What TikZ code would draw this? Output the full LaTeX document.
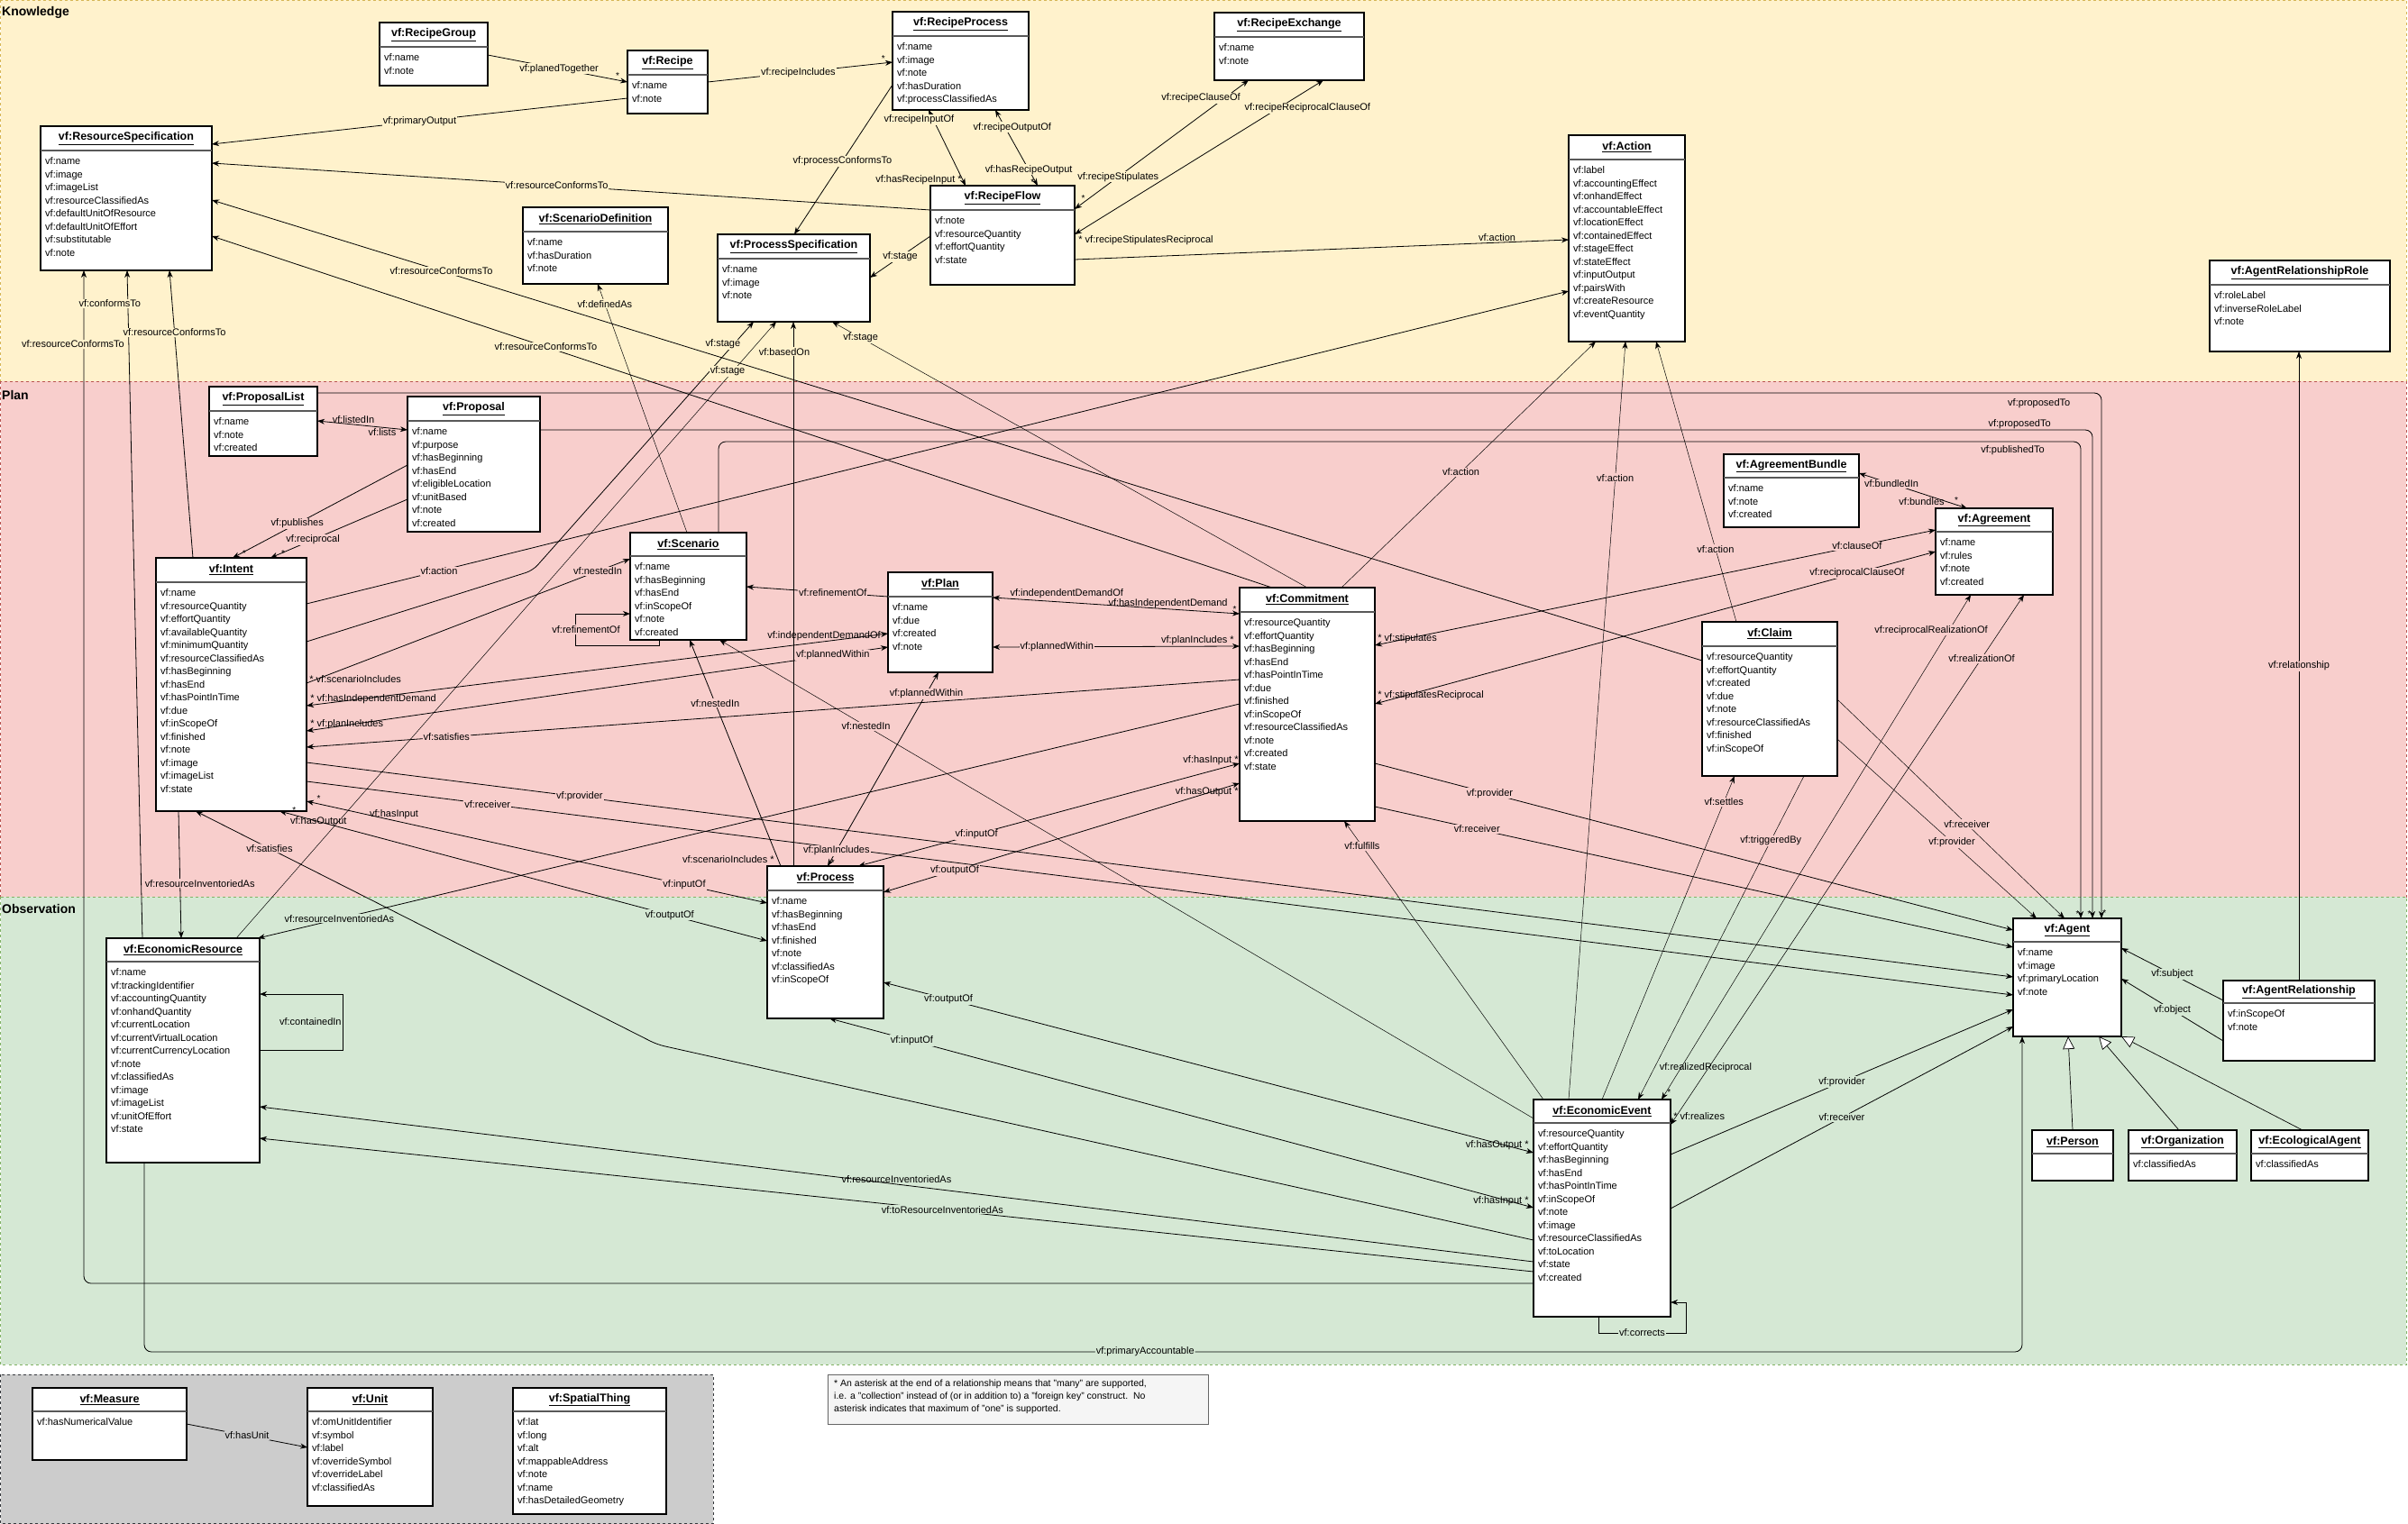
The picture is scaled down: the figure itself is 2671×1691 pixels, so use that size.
\documentclass[tikz,border=0pt]{standalone}
\usepackage{fontspec}
\setmainfont{Liberation Sans}
\usetikzlibrary{arrows.meta, positioning, calc}

\definecolor{knowbg}{HTML}{FFF2CC}
\definecolor{knowline}{HTML}{D6B656}
\definecolor{planbg}{HTML}{F8CECC}
\definecolor{planline}{HTML}{B85450}
\definecolor{obsbg}{HTML}{D5E8D4}
\definecolor{obsline}{HTML}{82B366}
\definecolor{unitbg}{HTML}{CCCCCC}
\definecolor{unitline}{HTML}{36393D}
\definecolor{notebg}{HTML}{F5F5F5}
\definecolor{noteline}{HTML}{666666}

\tikzset{
  classbox/.style={draw, line width=1.2pt, fill=white, anchor=north west, inner sep=0pt, outer sep=0pt},
  hdrline/.style={draw=black!65, line width=1.6pt},
  ctitle/.style={font=\bfseries\fontsize{12.5}{15}\selectfont, inner sep=0pt},
  cattr/.style={font=\fontsize{11}{14.5}\selectfont, align=left, anchor=north west, inner sep=0pt},
  elab/.style={font=\fontsize{11}{13}\selectfont, inner sep=1pt},
  lk/.style={elab, fill=knowbg},
  lp/.style={elab, fill=planbg},
  lo/.style={elab, fill=obsbg},
  mult/.style={font=\fontsize{10}{12}\selectfont, inner sep=1pt},
  link/.style={line width=0.8pt},
  fine/.style={line width=0.5pt},
  arr/.style={arrows={-Stealth[length=8pt,width=6pt,inset=2.5pt]}},
  arrs/.style={arrows={Stealth[length=8pt,width=6pt,inset=2.5pt]-Stealth[length=8pt,width=6pt,inset=2.5pt]}},
  isa/.style={line width=0.7pt, arrows={-Triangle[length=14pt,width=13pt,fill=white]}},
  region/.style={dashed, line width=0.6pt},
  lane/.style={anchor=west, font=\bfseries\fontsize{14}{16}\selectfont, inner sep=0pt},
}

% class box: name, top-left, width, height, header height, title, attributes
\newcommand{\umlclass}[7]{%
  \node[classbox, minimum width=#3, minimum height=#4] (#1) at (#2) {};
  \draw[hdrline] ([yshift=-#5]#1.north west) -- ([yshift=-#5]#1.north east);
  \node[ctitle] (#1-t) at ([yshift=-#5/2]#1.north) {\underline{#6}};
  \node[cattr] (#1-a) at ([xshift=5pt, yshift=-#5-7.5]#1.north west) {#7};
}

\begin{document}
\begin{tikzpicture}[x=1pt, y=-1pt]
  \useasboundingbox (0,0) rectangle (2671,1691);
  \fill[white] (0,0) rectangle (2671,1691);

  % Swimlanes
  \draw[region, draw=knowline, fill=knowbg] (0.5,0.5) rectangle (2669,423);
  \draw[region, draw=planline, fill=planbg] (0.5,423) rectangle (2669,995);
  \draw[region, draw=obsline, fill=obsbg] (0.5,995) rectangle (2669,1514);
  \draw[region, draw=unitline, fill=unitbg] (0.5,1525) rectangle (791,1690.5);
  \node[lane] (lane-k) at (2,14) {Knowledge};
  \node[lane] (lane-p) at (2,438) {Plan};
  \node[lane] (lane-o) at (2,1008) {Observation};

  % Knowledge classes
  \umlclass{rgroup}{421,25}{120}{70}{27}{vf:RecipeGroup}{vf:name\\vf:note}
  \umlclass{recipe}{696,56}{89}{70}{27}{vf:Recipe}{vf:name\\vf:note}
  \umlclass{rprocess}{990,13}{151}{109}{27}{vf:RecipeProcess}{vf:name\\vf:image\\vf:note\\vf:hasDuration\\vf:processClassifiedAs}
  \umlclass{rexchange}{1347,14}{166}{75}{27}{vf:RecipeExchange}{vf:name\\vf:note}
  \umlclass{rflow}{1032,206}{160}{110}{27}{vf:RecipeFlow}{vf:note\\vf:resourceQuantity\\vf:effortQuantity\\vf:state}
  \umlclass{resspec}{45,140}{190}{160}{27}{vf:ResourceSpecification}{vf:name\\vf:image\\vf:imageList\\vf:resourceClassifiedAs\\vf:defaultUnitOfResource\\vf:defaultUnitOfEffort\\vf:substitutable\\vf:note}
  \umlclass{scendef}{580,230}{161}{85}{27}{vf:ScenarioDefinition}{vf:name\\vf:hasDuration\\vf:note}
  \umlclass{procspec}{796,260}{169}{97}{27}{vf:ProcessSpecification}{vf:name\\vf:image\\vf:note}
  \umlclass{action}{1740,150}{129}{229}{27}{vf:Action}{vf:label\\vf:accountingEffect\\vf:onhandEffect\\vf:accountableEffect\\vf:locationEffect\\vf:containedEffect\\vf:stageEffect\\vf:stateEffect\\vf:inputOutput\\vf:pairsWith\\vf:createResource\\vf:eventQuantity}
  \umlclass{arrole}{2451,289}{200}{101}{27}{vf:AgentRelationshipRole}{vf:roleLabel\\vf:inverseRoleLabel\\vf:note}

  % Plan classes
  \umlclass{plist}{232,429}{120}{77}{27}{vf:ProposalList}{vf:name\\vf:note\\vf:created}
  \umlclass{proposal}{452,440}{147}{150}{27}{vf:Proposal}{vf:name\\vf:purpose\\vf:hasBeginning\\vf:hasEnd\\vf:eligibleLocation\\vf:unitBased\\vf:note\\vf:created}
  \umlclass{intent}{173,619}{167}{281}{27}{vf:Intent}{vf:name\\vf:resourceQuantity\\vf:effortQuantity\\vf:availableQuantity\\vf:minimumQuantity\\vf:resourceClassifiedAs\\vf:hasBeginning\\vf:hasEnd\\vf:hasPointInTime\\vf:due\\vf:inScopeOf\\vf:finished\\vf:note\\vf:image\\vf:imageList\\vf:state}
  \umlclass{scenario}{699,591}{129}{119}{26}{vf:Scenario}{vf:name\\vf:hasBeginning\\vf:hasEnd\\vf:inScopeOf\\vf:note\\vf:created}
  \umlclass{plan}{985,635}{116}{111}{27}{vf:Plan}{vf:name\\vf:due\\vf:created\\vf:note}
  \umlclass{commit}{1375,652}{150}{259}{27}{vf:Commitment}{vf:resourceQuantity\\vf:effortQuantity\\vf:hasBeginning\\vf:hasEnd\\vf:hasPointInTime\\vf:due\\vf:finished\\vf:inScopeOf\\vf:resourceClassifiedAs\\vf:note\\vf:created\\vf:state}
  \umlclass{abundle}{1912,504}{150}{81}{26}{vf:AgreementBundle}{vf:name\\vf:note\\vf:created}
  \umlclass{agreement}{2147,564}{130}{96}{26}{vf:Agreement}{vf:name\\vf:rules\\vf:note\\vf:created}
  \umlclass{claim}{1888,690}{150}{171}{27}{vf:Claim}{vf:resourceQuantity\\vf:effortQuantity\\vf:created\\vf:due\\vf:note\\vf:resourceClassifiedAs\\vf:finished\\vf:inScopeOf}

  % Observation classes
  \umlclass{ecores}{118,1041}{170}{249}{26}{vf:EconomicResource}{vf:name\\vf:trackingIdentifier\\vf:accountingQuantity\\vf:onhandQuantity\\vf:currentLocation\\vf:currentVirtualLocation\\vf:currentCurrencyLocation\\vf:note\\vf:classifiedAs\\vf:image\\vf:imageList\\vf:unitOfEffort\\vf:state}
  \umlclass{process}{851,961}{129}{169}{27}{vf:Process}{vf:name\\vf:hasBeginning\\vf:hasEnd\\vf:finished\\vf:note\\vf:classifiedAs\\vf:inScopeOf}
  \umlclass{ecoevent}{1701,1220}{152}{241}{26}{vf:EconomicEvent}{vf:resourceQuantity\\vf:effortQuantity\\vf:hasBeginning\\vf:hasEnd\\vf:hasPointInTime\\vf:inScopeOf\\vf:note\\vf:image\\vf:resourceClassifiedAs\\vf:toLocation\\vf:state\\vf:created}
  \umlclass{agent}{2233,1019}{120}{131}{26}{vf:Agent}{vf:name\\vf:image\\vf:primaryLocation\\vf:note}
  \umlclass{agentrel}{2466,1088}{168}{89}{25}{vf:AgentRelationship}{vf:inScopeOf\\vf:note}
  \umlclass{person}{2254,1254}{90}{56}{26}{vf:Person}{}
  \umlclass{org}{2361,1254}{120}{56}{26}{vf:Organization}{vf:classifiedAs}
  \umlclass{ecoagent}{2497,1254}{130}{56}{26}{vf:EcologicalAgent}{vf:classifiedAs}

  % Measurement classes
  \umlclass{measure}{36,1540}{171}{80}{26}{vf:Measure}{vf:hasNumericalValue}
  \umlclass{unit}{341,1540}{139}{131}{26}{vf:Unit}{vf:omUnitIdentifier\\vf:symbol\\vf:label\\vf:overrideSymbol\\vf:overrideLabel\\vf:classifiedAs}
  \umlclass{spatial}{569,1540}{170}{140}{26}{vf:SpatialThing}{vf:lat\\vf:long\\vf:alt\\vf:mappableAddress\\vf:note\\vf:name\\vf:hasDetailedGeometry}

  % Note
  \node[draw=noteline, fill=notebg, line width=0.8pt, anchor=north west, minimum width=422, minimum height=55, inner sep=0pt] (note) at (918,1525) {};
  \node[anchor=north west, align=left, inner sep=0pt, font=\fontsize{10.5}{14}\selectfont] (note-text) at ([xshift=7pt, yshift=-6pt]note.north west) {* An asterisk at the end of a relationship means that "many" are supported,\\i.e. a "collection" instead of (or in addition to) a "foreign key" construct.\ \ No\\asterisk indicates that maximum of "one" is supported.};

  % Knowledge relations
  \draw[link, arr] (rgroup.east |- 0,61) -- node[lk, pos=0.51] {vf:planedTogether} node[mult, pos=0.93, above] {*} (recipe.west |- 0,91);
  \draw[link, arr] (recipe.east |- 0,91) -- node[lk, pos=0.49] {vf:recipeIncludes} node[mult, pos=0.95, above] {*} (rprocess.west |- 0,69);
  \draw[link, arr] (recipe.west |- 0,109) -- node[lk, pos=0.5] {vf:primaryOutput} (resspec.east |- 0,160);
  \draw[link, arr] (rprocess.west |- 0,94) -- node[lk, pos=0.51] {vf:processConformsTo} (procspec.north -| 881,0);
  \draw[link, arrs] (rprocess.south -| 1030,0) -- node[lk, pos=0.13, xshift=-16pt] {vf:recipeInputOf} node[elab, pos=0.93, left] {vf:hasRecipeInput *} (rflow.north -| 1071,0);
  \draw[link, arrs] (rprocess.south -| 1104,0) -- node[lk, pos=0.23, xshift=8pt] {vf:recipeOutputOf} node[lk, pos=0.79] {vf:hasRecipeOutput} node[mult, pos=0.95, left] {*} (rflow.north -| 1151,0);
  \draw[link, arrs] (rexchange.south -| 1385,0) -- node[lk, pos=0.14, xshift=-26pt] {vf:recipeClauseOf} node[lk, pos=0.75] {vf:recipeStipulates} node[mult, pos=0.95, above] {*} (rflow.east |- 0,232);
  \draw[link, arrs] (rexchange.south -| 1468,0) -- node[lk, pos=0.18, xshift=32pt] {vf:recipeReciprocalClauseOf} node[elab, at end, anchor=west, xshift=3pt, yshift=-7pt] {* vf:recipeStipulatesReciprocal} (rflow.east |- 0,260);
  \draw[link, arr] (rflow.east |- 0,288) -- node[elab, pos=0.855, above] {vf:action} (action.west |- 0,266);
  \draw[link, arr] (rflow.west |- 0,262) -- node[lk, pos=0.5] {vf:stage} (procspec.east |- 0,308);
  \draw[link, arr] (rflow.west |- 0,233) -- node[lk, pos=0.52] {vf:resourceConformsTo} (resspec.east |- 0,181);
  \draw[fine, arr] (scenario.north -| 762,0) -- node[lk, pos=0.92] {vf:definedAs} (scendef.south -| 663,0);
  \draw[link, arr, rounded corners=8pt] (intent.east |- 0,712) -- (591,633) -- node[lk, pos=0.91, xshift=-12pt] {vf:stage} (procspec.south -| 836,0);
  \draw[fine, arr] (ecores.north -| 262,0) -- node[lk, pos=0.92, xshift=-6pt] {vf:stage} (procspec.south -| 861,0);
  \draw[link, arr] (process.north -| 880,0) -- node[lk, pos=0.945, xshift=-10pt] {vf:basedOn} (procspec.south -| 880,0);
  \draw[fine, arr] (commit.north -| 1450,0) -- node[lk, pos=0.94] {vf:stage} (procspec.south -| 923,0);
  \draw[fine, arr] (commit.north -| 1488,0) -- node[lp, pos=0.47] {vf:action} (action.south -| 1770,0);
  \draw[fine, arr] (ecoevent.north -| 1740,0) -- node[lp, pos=0.82] {vf:action} (action.south -| 1803,0);
  \draw[fine, arr] (claim.north -| 1926,0) -- node[lp, pos=0.26] {vf:action} (action.south -| 1837,0);
  \draw[link, arr] (intent.east |- 0,670) -- node[lp, pos=0.105] {vf:action} (action.west |- 0,323);
  \draw[link, arr] (agentrel.north -| 2550,0) -- node[lp, pos=0.5] {vf:relationship} (arrole.south -| 2550,0);
  \draw[link, arr, rounded corners=8pt] (ecoevent.west |- 0,1424) -- (93,1424) -- node[lk, pos=0.927, xshift=-12pt] {vf:resourceConformsTo} (resspec.south -| 93,0);
  \draw[link, arr] (ecores.north -| 158,0) -- node[lk, pos=0.95, xshift=-20pt] {vf:conformsTo} (resspec.south -| 141,0);
  \draw[link, arr] (intent.north -| 214,0) -- node[lk, pos=0.785] {vf:resourceConformsTo} (resspec.south -| 188,0);
  \draw[link, arr] (commit.north -| 1411,0) -- node[lk, pos=0.685] {vf:resourceConformsTo} (resspec.east |- 0,262);
  \draw[link, arr] (claim.west |- 0,733) -- node[lk, pos=0.846] {vf:resourceConformsTo} (resspec.east |- 0,222);

  % Plan relations
  \draw[link, arrs] (plist.east |- 0,467) -- node[elab, pos=0.4, above] {vf:listedIn} node[elab, pos=0.72, below] {vf:lists} (proposal.west |- 0,477);
  \draw[link, arr, rounded corners=8pt] (plist.east |- 0,436) -- node[elab, pos=0.965, below, yshift=-5pt] {vf:proposedTo} (2331,436) -- node[mult, pos=0.99, right] {*} (agent.north -| 2331,0);
  \draw[link, arr, rounded corners=8pt] (proposal.east |- 0,477) -- node[elab, pos=0.953, above] {vf:proposedTo} (2321,477) -- node[mult, pos=0.99, left] {*} (agent.north -| 2321,0);
  \draw[link, arr, rounded corners=8pt] (scenario.north -| 797,0) -- (797,490) -- node[elab, pos=0.95, below, yshift=-3pt] {vf:publishedTo} (2308,490) -- node[mult, pos=0.99, left] {*} (agent.north -| 2308,0);
  \draw[link, arr] (proposal.west |- 0,516) -- node[lp, pos=0.63] {vf:publishes} node[mult, pos=0.95, right] {*} (intent.north -| 258,0);
  \draw[link, arr] (proposal.west |- 0,554) -- node[lp, pos=0.69] {vf:reciprocal} node[mult, pos=0.93, right] {*} (intent.north -| 300,0);
  \draw[link, arr] (intent.east |- 0,758) -- node[elab, at start, anchor=west, xshift=2pt, yshift=4pt] {* vf:scenarioIncludes} node[lp, pos=0.9] {vf:nestedIn} (scenario.west |- 0,620);
  \draw[link, arr] (scenario.south -| 731,0) -- (731,716) -- (638,716) -- node[lp, pos=0.5, xshift=12pt] {vf:refinementOf} (638,681) -- (scenario.west |- 0,681);
  \draw[link, arr] (plan.west |- 0,662) -- node[lp, pos=0.39] {vf:refinementOf} (scenario.east |- 0,651);
  \draw[link, arrs] (intent.east |- 0,783) -- node[elab, at start, anchor=west, xshift=3pt, yshift=7pt] {* vf:hasIndependentDemand} node[elab, pos=0.89, above] {vf:independentDemandOf} (plan.west |- 0,703);
  \draw[link, arrs] (intent.east |- 0,811) -- node[elab, at start, anchor=west, xshift=3pt, yshift=7pt] {* vf:planIncludes} node[lp, pos=0.905] {vf:plannedWithin} (plan.west |- 0,718);
  \draw[link, arr] (commit.west |- 0,754) -- node[lp, pos=0.85] {vf:satisfies} (intent.east |- 0,829);
  \draw[link, arr] (intent.east |- 0,846) -- node[lp, pos=0.16] {vf:provider} (agent.west |- 0,1084);
  \draw[link, arr] (intent.east |- 0,867) -- node[lp, pos=0.106] {vf:receiver} (agent.west |- 0,1104);
  \draw[link, arrs] (intent.east |- 0,889) -- node[mult, pos=0.02, above right] {*} node[elab, pos=0.19, above] {vf:hasInput} node[lp, pos=0.82] {vf:inputOf} (process.west |- 0,1002);
  \draw[link, arrs] (intent.south -| 310,0) -- node[mult, pos=0.03, above] {*} node[elab, pos=0.08] {vf:hasOutput} node[lo, pos=0.8] {vf:outputOf} (process.west |- 0,1044);
  \draw[link, arr, rounded corners=8pt] (ecoevent.west |- 0,1376) -- (729,1159) -- node[lp, pos=0.84] {vf:satisfies} (intent.south -| 217,0);
  \draw[link, arr] (intent.south -| 198,0) -- node[lp, pos=0.57, xshift=22pt] {vf:resourceInventoriedAs} (ecores.north -| 201,0);
  \draw[link, arr] (commit.west |- 0,781) -- node[lo, pos=0.917] {vf:resourceInventoriedAs} (ecores.north -| 286,0);
  \draw[link, arrs] (plan.east |- 0,663) -- node[elab, pos=0.3, above, yshift=3pt] {vf:independentDemandOf} node[elab, pos=0.71, above] {vf:hasIndependentDemand} node[mult, pos=0.98, above] {*} (commit.west |- 0,681);
  \draw[link, arrs] (plan.east |- 0,718) -- node[lp, pos=0.26] {vf:plannedWithin} node[elab, pos=0.83, above] {vf:planIncludes *} (commit.west |- 0,717);
  \draw[link, arrs] (process.north -| 918,0) -- node[lp, pos=0.08] {vf:planIncludes} node[mult, pos=0.02, right] {*} node[lp, pos=0.89] {vf:plannedWithin} (plan.south -| 1041,0);
  \draw[link, arrs] (process.north -| 952,0) -- node[lp, pos=0.31] {vf:inputOf} node[elab, at end, anchor=south east, yshift=-3pt] {vf:hasInput *} (commit.west |- 0,847);
  \draw[link, arrs] (process.east |- 0,990) -- node[lp, pos=0.2] {vf:outputOf} node[elab, at end, anchor=north east, yshift=-3pt] {vf:hasOutput *} (commit.west |- 0,869);
  \draw[link, arr] (process.north -| 866,0) -- node[elab, at start, anchor=east, xshift=-6pt, yshift=7pt] {vf:scenarioIncludes *} node[lp, pos=0.72] {vf:nestedIn} (scenario.south -| 765,0);
  \draw[fine, arr] (ecoevent.west |- 0,1241) -- node[lp, pos=0.82] {vf:nestedIn} (scenario.south -| 798,0);
  \draw[link, arrs] (commit.east |- 0,716) -- node[elab, at start, anchor=west, xshift=2pt, yshift=7pt] {* vf:stipulates} node[lp, pos=0.86] {vf:clauseOf} (agreement.west |- 0,588);
  \draw[link, arrs] (commit.east |- 0,781) -- node[elab, at start, anchor=west, xshift=2pt, yshift=9pt] {* vf:stipulatesReciprocal} node[lp, pos=0.86] {vf:reciprocalClauseOf} (agreement.west |- 0,612);
  \draw[link, arrs] (agreement.north -| 2182,0) -- node[elab, pos=0.2, anchor=east] {vf:bundles} node[mult, pos=0.1, above] {*} node[lp, pos=0.7] {vf:bundledIn} (abundle.east |- 0,525);
  \draw[fine, arrs] (ecoevent.east |- 0,1248) -- node[elab, at start, anchor=west, xshift=2pt, yshift=9pt] {* vf:realizes} node[lp, pos=0.88] {vf:realizationOf} (agreement.south -| 2245,0);
  \draw[fine, arrs] (ecoevent.north -| 1843,0) -- node[mult, pos=0.015, right] {*} node[elab, pos=0.064, xshift=27pt] {vf:realizedReciprocal} node[lp, pos=0.93, xshift=-20pt] {vf:reciprocalRealizationOf} (agreement.south -| 2186,0);
  \draw[fine, arr] (claim.south -| 2001,0) -- node[lp, pos=0.2] {vf:triggeredBy} (ecoevent.north -| 1817,0);
  \draw[fine, arr] (ecoevent.north -| 1777,0) -- node[lp, pos=0.92] {vf:settles} (claim.south -| 1924,0);
  \draw[fine, arr] (ecoevent.north -| 1712,0) -- node[lp, pos=0.91] {vf:fulfills} (commit.south -| 1491,0);
  \draw[fine, arr] (claim.east |- 0,776) -- node[lp, pos=0.57] {vf:receiver} (agent.north -| 2290,0);
  \draw[fine, arr] (claim.east |- 0,820) -- node[lp, pos=0.575] {vf:provider} (agent.north -| 2259,0);
  \draw[link, arr] (commit.east |- 0,847) -- node[lp, pos=0.18] {vf:provider} (agent.west |- 0,1032);
  \draw[link, arr] (commit.east |- 0,895) -- node[lp, pos=0.16] {vf:receiver} (agent.west |- 0,1051);

  % Observation relations
  \draw[link, arrs] (process.east |- 0,1090) -- node[lo, pos=0.1] {vf:outputOf} node[elab, at end, anchor=east, xshift=-4pt, yshift=8pt] {vf:hasOutput *} (ecoevent.west |- 0,1279);
  \draw[link, arrs] (process.south -| 920,0) -- node[lo, pos=0.117] {vf:inputOf} node[elab, at end, anchor=east, xshift=-4pt, yshift=7pt] {vf:hasInput *} (ecoevent.west |- 0,1340);
  \draw[link, arr] (ecoevent.west |- 0,1400) -- node[elab, pos=0.5, above] {vf:resourceInventoriedAs} (ecores.east |- 0,1228);
  \draw[link, arr] (ecoevent.west |- 0,1411) -- node[lo, pos=0.464] {vf:toResourceInventoriedAs} (ecores.east |- 0,1263);
  \draw[link, arr] (ecoevent.south -| 1773,0) -- (1773,1479) -- node[lo, pos=0.5] {vf:corrects} (1870,1479) -- (1870,1445) -- (ecoevent.east |- 0,1445);
  \draw[link, arr, rounded corners=8pt] (ecores.south -| 160,0) -- (160,1500) -- node[lo, pos=0.533] {vf:primaryAccountable} (2243,1500) -- (agent.south -| 2243,0);
  \draw[link, arr] (ecores.east |- 0,1165) -- (380,1165) -- node[elab, pos=0.5, left] {vf:containedIn} (380,1103) -- (ecores.east |- 0,1103);
  \draw[link, arr] (agentrel.west |- 0,1110) -- node[lo, pos=0.5] {vf:subject} (agent.east |- 0,1052);
  \draw[link, arr] (agentrel.west |- 0,1155) -- node[lo, pos=0.5] {vf:object} (agent.east |- 0,1086);
  \draw[link, arr] (ecoevent.east |- 0,1281) -- node[lo, pos=0.5] {vf:provider} (agent.west |- 0,1120);
  \draw[link, arr] (ecoevent.east |- 0,1341) -- node[lo, pos=0.5] {vf:receiver} (agent.west |- 0,1139);
  \draw[isa] (person.north -| 2299,0) -- (agent.south -| 2294,0);
  \draw[isa] (org.north -| 2417,0) -- (agent.south -| 2328,0);
  \draw[isa] (ecoagent.north -| 2554,0) -- (agent.south east);

  % Measurement relations
  \draw[link, arr] (measure.east |- 0,1580) -- node[elab, fill=unitbg, pos=0.5] {vf:hasUnit} (unit.west |- 0,1606);
\end{tikzpicture}
\end{document}
